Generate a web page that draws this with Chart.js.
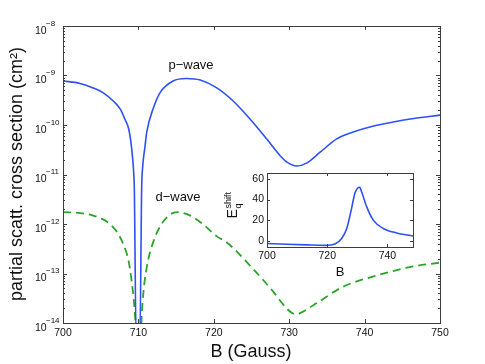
<!DOCTYPE html>
<html>
<head>
<meta charset="utf-8">
<script src="https://cdn.jsdelivr.net/npm/chart.js@4/dist/chart.umd.min.js"></script>
<style>
  body { margin: 0; background: #fff; }
  #wrap { position: relative; width: 485px; height: 364px; }
  #mainChart { position: absolute; left: 0; top: 0; }
  #insetChart { position: absolute; left: 215px; top: 165px; }
</style>
</head>
<body>
<div id="wrap">
  <canvas id="mainChart" width="485" height="364"></canvas>
  <canvas id="insetChart" width="205" height="115"></canvas>
</div>
<script>
// p-wave cross section (cm^2) vs B (Gauss)
const pB   = [700, 702.25, 704, 705.35, 706.7, 707.6, 708.2, 708.7, 709.0, 709.24, 709.37, 709.46, 709.7, 710.2, 710.43, 710.57, 710.87, 711.1, 712.0, 712.9, 714.6, 716.4, 718.2, 720.4, 722.6, 724.8, 727, 728.8, 729.7, 731, 732.3, 734.1, 736.3, 738.5, 741.2, 743.8, 746.5, 750];
const pVal = [7.76e-10, 6.92e-10, 5.62e-10, 4.47e-10, 3.02e-10, 2.09e-10, 1.32e-10, 8.5e-11, 4.57e-11, 2.09e-11, 1.12e-11, 5.1e-12, 5e-15, 5e-15, 5.1e-12, 1.45e-11, 3.63e-11, 7.1e-11, 2.24e-10, 4.57e-10, 7.76e-10, 8.7e-10, 8.1e-10, 5.62e-10, 3.02e-10, 1.32e-10, 5.25e-11, 2.4e-11, 1.78e-11, 1.48e-11, 1.7e-11, 2.82e-11, 5.25e-11, 7.24e-11, 9.55e-11, 1.15e-10, 1.35e-10, 1.58e-10];

// d-wave cross section
const dB   = [700, 702.3, 704, 705.8, 707.1, 708, 708.7, 709.1, 709.4, 709.6, 709.8, 710.25, 710.43, 710.65, 711.1, 712, 713.3, 715.1, 716.9, 718.6, 720.4, 721.7, 724.8, 727.9, 729.7, 730.8, 733.2, 737.1, 741.6, 746, 750];
const dVal = [1.74e-12, 1.66e-12, 1.48e-12, 1.12e-12, 7.1e-13, 3.9e-13, 1.78e-13, 7.1e-14, 2.8e-14, 1.12e-14, 3e-15, 3e-15, 1.32e-14, 3.9e-14, 1.32e-13, 4.47e-13, 1.12e-12, 1.74e-12, 1.48e-12, 9.8e-13, 5.62e-13, 4.27e-13, 1.45e-13, 4.27e-14, 1.95e-14, 1.51e-14, 2.29e-14, 5.37e-14, 9.1e-14, 1.35e-13, 1.66e-13];

// inset: E_q^shift vs B
const insetB = [700, 706.6, 713.2, 719.3, 722.6, 724.8, 726.5, 728.1, 729.2, 730.3, 730.8, 731.4, 733.1, 735.3, 738.6, 743, 748.5];
const insetE = [-2.2, -2.9, -3.5, -3.9, -2.6, 2.6, 12.3, 31.6, 46, 51.5, 51.8, 47.7, 33.2, 20.3, 12.3, 8, 5.1];

const mainXTicks = [700, 710, 720, 730, 740, 750];
const mainYExponents = [-14, -13, -12, -11, -10, -9, -8];
const insetXTicks = [700, 720, 740];
const insetYTicks = [0, 20, 40, 60];

const FONT = '"Liberation Sans", Arial, sans-serif';
const BLUE = '#2f4ff7';
const GREEN = '#2aa52a';
const AXIS = '#3c3c3c';

function toPoints(xs, ys) {
    return xs.map((x, i) => ({ x, y: ys[i] }));
}

const mainDecor = {
    id: 'mainDecor',
    afterDraw(chart) {
        const { ctx, chartArea: a, scales: { x, y } } = chart;
        ctx.save();
        ctx.strokeStyle = AXIS;
        ctx.lineWidth = 1;
        ctx.strokeRect(a.left + 0.5, a.top + 0.5, a.right - a.left, a.bottom - a.top);

        ctx.beginPath();
        mainXTicks.forEach(v => {
            const px = Math.round(x.getPixelForValue(v)) + 0.5;
            ctx.moveTo(px, a.bottom); ctx.lineTo(px, a.bottom - 4);
            ctx.moveTo(px, a.top); ctx.lineTo(px, a.top + 4);
        });
        mainYExponents.forEach(e => {
            for (let m = 1; m <= 9; m++) {
                if (e === -8 && m > 1) break;
                const py = Math.round(y.getPixelForValue(m * Math.pow(10, e))) + 0.5;
                const len = m === 1 ? 4 : 2;
                ctx.moveTo(a.left, py); ctx.lineTo(a.left + len, py);
                ctx.moveTo(a.right, py); ctx.lineTo(a.right - len, py);
            }
        });
        ctx.stroke();

        ctx.fillStyle = '#111';
        ctx.font = '10.5px ' + FONT;
        ctx.textAlign = 'center';
        ctx.textBaseline = 'middle';
        mainXTicks.forEach(v => {
            ctx.fillText(String(v), x.getPixelForValue(v), a.bottom + 10);
        });

        mainYExponents.forEach(e => {
            const py = y.getPixelForValue(Math.pow(10, e));
            ctx.textAlign = 'left';
            ctx.textBaseline = 'alphabetic';
            ctx.font = '10.5px ' + FONT;
            ctx.fillText('10', 35, py + 7.5);
            ctx.font = '8px ' + FONT;
            ctx.fillText('\u2212' + Math.abs(e), 46, py - 0.5);
        });

        ctx.font = '18px ' + FONT;
        ctx.textAlign = 'center';
        ctx.textBaseline = 'middle';
        ctx.fillText('B (Gauss)', 251, 352);

        ctx.save();
        ctx.translate(17, 174);
        ctx.rotate(-Math.PI / 2);
        ctx.font = '18px ' + FONT;
        ctx.fillText('partial scatt. cross section (cm\u00b2)', 0, 0);
        ctx.restore();

        ctx.font = '13px ' + FONT;
        ctx.fillText('p\u2212wave', 191, 65);
        ctx.fillText('d\u2212wave', 178, 197);
        ctx.restore();
    }
};

new Chart(document.getElementById('mainChart'), {
    type: 'line',
    data: {
        datasets: [
            {
                label: 'p-wave',
                data: toPoints(pB, pVal),
                borderColor: BLUE,
                borderWidth: 1.6,
                pointRadius: 0,
                cubicInterpolationMode: 'monotone',
                fill: false
            },
            {
                label: 'd-wave',
                data: toPoints(dB, dVal),
                borderColor: GREEN,
                borderWidth: 1.8,
                borderDash: [8, 5],
                pointRadius: 0,
                cubicInterpolationMode: 'monotone',
                fill: false
            }
        ]
    },
    options: {
        responsive: false,
        animation: false,
        layout: { padding: { left: 63, right: 45, top: 26, bottom: 41 } },
        plugins: { legend: { display: false }, tooltip: { enabled: false } },
        scales: {
            x: { type: 'linear', min: 700, max: 750, display: false },
            y: { type: 'logarithmic', min: 1e-14, max: 1e-8, display: false }
        }
    },
    plugins: [mainDecor]
});

const insetDecor = {
    id: 'insetDecor',
    beforeDatasetsDraw(chart) {
        const { ctx, chartArea: a } = chart;
        ctx.save();
        ctx.fillStyle = '#fff';
        ctx.fillRect(a.left, a.top, a.right - a.left, a.bottom - a.top);
        ctx.restore();
    },
    afterDraw(chart) {
        const { ctx, chartArea: a, scales: { x, y } } = chart;
        ctx.save();
        ctx.strokeStyle = AXIS;
        ctx.lineWidth = 1;
        ctx.strokeRect(a.left + 0.5, a.top + 0.5, a.right - a.left, a.bottom - a.top);
        ctx.beginPath();
        insetXTicks.forEach(v => {
            const px = Math.round(x.getPixelForValue(v)) + 0.5;
            ctx.moveTo(px, a.bottom); ctx.lineTo(px, a.bottom - 3);
            ctx.moveTo(px, a.top); ctx.lineTo(px, a.top + 3);
        });
        insetYTicks.forEach(v => {
            const py = Math.round(y.getPixelForValue(v)) + 0.5;
            ctx.moveTo(a.left, py); ctx.lineTo(a.left + 3, py);
            ctx.moveTo(a.right, py); ctx.lineTo(a.right - 3, py);
        });
        ctx.stroke();

        ctx.fillStyle = '#111';
        ctx.font = '10.5px ' + FONT;
        ctx.textAlign = 'center';
        ctx.textBaseline = 'middle';
        insetXTicks.forEach(v => ctx.fillText(String(v), x.getPixelForValue(v), a.bottom + 9));
        ctx.textAlign = 'right';
        insetYTicks.forEach(v => ctx.fillText(String(v), a.left - 3, y.getPixelForValue(v)));

        ctx.textAlign = 'center';
        ctx.font = '13px ' + FONT;
        ctx.fillText('B', 125, 107);

        // E_q^shift, rotated
        ctx.save();
        ctx.translate(21.5, 53.5);
        ctx.rotate(-Math.PI / 2);
        ctx.textAlign = 'left';
        ctx.textBaseline = 'alphabetic';
        ctx.font = '14px ' + FONT;
        ctx.fillText('E', 0, 0);
        ctx.font = '9px ' + FONT;
        ctx.fillText('q', 10, 4);
        ctx.fillText('shift', 10, -6);
        ctx.restore();
        ctx.restore();
    }
};

new Chart(document.getElementById('insetChart'), {
    type: 'line',
    data: {
        datasets: [{
            label: 'E shift',
            data: toPoints(insetB, insetE),
            borderColor: BLUE,
            borderWidth: 1.6,
            pointRadius: 0,
            cubicInterpolationMode: 'monotone',
            fill: false
        }]
    },
    options: {
        responsive: false,
        animation: false,
        layout: { padding: { left: 52, right: 7, top: 8, bottom: 33 } },
        plugins: { legend: { display: false }, tooltip: { enabled: false } },
        scales: {
            x: { type: 'linear', min: 700, max: 748.5, display: false },
            y: { type: 'linear', min: -5.5, max: 65.5, display: false }
        }
    },
    plugins: [insetDecor]
});
</script>
</body>
</html>
